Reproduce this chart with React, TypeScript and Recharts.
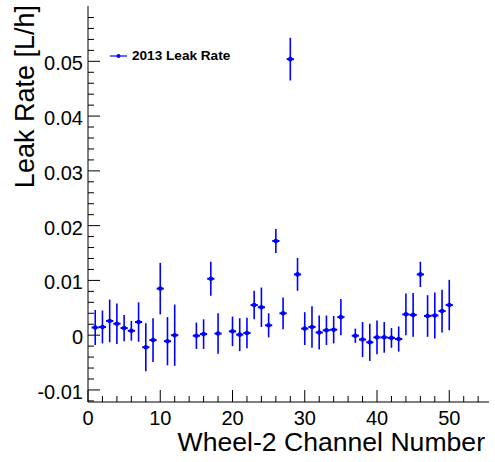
import React from 'react';
import {
  ScatterChart,
  Scatter,
  XAxis,
  YAxis,
  ErrorBar,
  Legend,
} from 'recharts';

// channel numbers that have a measurement
const channels = [
  1, 2, 3, 4, 5, 6, 7, 8, 9, 10, 11, 12, 15, 16, 17, 18, 20, 21, 22, 23, 24,
  25, 26, 27, 28, 29, 30, 31, 32, 33, 34, 35, 37, 38, 39, 40, 41, 42, 43, 44,
  45, 46, 47, 48, 49, 50,
];

// leak rate [L/h]
const leakRate = [
  0.0014, 0.0015, 0.0026, 0.0021, 0.0013, 0.0008, 0.0024, -0.0022, -0.0009,
  0.0085, -0.0011, 0.0, -0.0001, 0.0002, 0.0103, 0.0003, 0.0007, 0.0001,
  0.0004, 0.0055, 0.0051, 0.0018, 0.0172, 0.004, 0.0504, 0.0111, 0.0012,
  0.0015, 0.0005, 0.0009, 0.001, 0.0033, -0.0001, -0.0008, -0.0013, -0.0004,
  -0.0004, -0.0005, -0.0007, 0.0038, 0.0037, 0.0111, 0.0035, 0.0036, 0.0044,
  0.0055,
];

// error on the leak rate
const leakRateErr = [
  0.0032, 0.003, 0.0039, 0.0037, 0.0024, 0.0018, 0.0036, 0.0044, 0.004,
  0.0047, 0.0044, 0.0056, 0.0024, 0.0027, 0.0031, 0.0037, 0.0027, 0.003,
  0.0028, 0.0026, 0.0036, 0.0022, 0.0022, 0.0029, 0.0039, 0.003, 0.003,
  0.0038, 0.0031, 0.0027, 0.0025, 0.0033, 0.0013, 0.0032, 0.0034, 0.0031,
  0.0028, 0.0018, 0.0023, 0.0038, 0.004, 0.0023, 0.0038, 0.0042, 0.0039,
  0.0046,
];

const BIN_HALF_WIDTH = 0.5;

const data = channels.map((ch, i) => ({
  ch,
  rate: leakRate[i],
  err: leakRateErr[i],
  binErr: BIN_HALF_WIDTH,
}));

const X_DOMAIN: [number, number] = [0, 55.5];
const Y_DOMAIN: [number, number] = [-0.0122, 0.0601];

// ticks every 2 channels, every 0.002 L/h (labels only on the majors)
const xTicks: number[] = [];
for (let i = 0; i <= 27; i++) xTicks.push(i * 2);
const yTicks: number[] = [];
for (let i = -6; i <= 29; i++) yTicks.push(Math.round(i * 2) / 1000);

const BLUE = '#0000ff';
const FONT = '"Liberation Sans", Arial, Helvetica, sans-serif';
const MAJOR = 12;
const MINOR = 6;

const isMajorX = (v: number) => Math.abs(v / 10 - Math.round(v / 10)) < 1e-6;
const isMajorY = (v: number) =>
  Math.abs(v / 0.01 - Math.round(v / 0.01)) < 1e-6;

const fmtY = (v: number) => {
  const r = Math.round(v * 100) / 100;
  return r === 0 ? '0' : String(r);
};

type Side = 'bottom' | 'top' | 'left' | 'right';

const makeTick = (side: Side) => (props: any) => {
  const { x, y, payload } = props;
  const v = payload.value as number;
  const major = side === 'bottom' || side === 'top' ? isMajorX(v) : isMajorY(v);
  const len = major ? MAJOR : MINOR;
  let x2 = x;
  let y2 = y;
  if (side === 'bottom') y2 = y - len;
  if (side === 'top') y2 = y + len;
  if (side === 'left') x2 = x + len;
  if (side === 'right') x2 = x - len;
  return (
    <g>
      <line x1={x} y1={y} x2={x2} y2={y2} stroke="#000" strokeWidth={1} />
      {major && side === 'bottom' && (
        <text
          x={x}
          y={y + 23}
          textAnchor="middle"
          fontSize={20}
          fontFamily={FONT}
          fill="#000"
        >
          {v}
        </text>
      )}
      {major && side === 'left' && (
        <text
          x={x - 5}
          y={y + 9}
          textAnchor="end"
          fontSize={20}
          fontFamily={FONT}
          fill="#000"
        >
          {fmtY(v)}
        </text>
      )}
    </g>
  );
};

const XTitle = () => (
  <text
    x={485}
    y={451}
    textAnchor="end"
    fontSize={26.6}
    fontFamily={FONT}
    fill="#000"
  >
    Wheel-2 Channel Number
  </text>
);

const YTitle = () => (
  <text
    transform="rotate(-90)"
    x={-5}
    y={34}
    textAnchor="end"
    fontSize={27}
    fontFamily={FONT}
    fill="#000"
  >
    Leak Rate [L/h]
  </text>
);

const renderLegend = () => (
  <div style={{ display: 'flex', alignItems: 'center', fontFamily: FONT }}>
    <svg width={20} height={12} style={{ display: 'block' }}>
      <line x1={1} y1={6} x2={18} y2={6} stroke={BLUE} strokeWidth={1.2} />
      <circle cx={9.5} cy={6} r={2} fill={BLUE} />
    </svg>
    <span
      style={{
        marginLeft: 3,
        fontSize: 13.6,
        fontWeight: 'bold',
        color: '#000',
        whiteSpace: 'nowrap',
      }}
    >
      2013 Leak Rate
    </span>
  </div>
);

const Dot = (props: any) => (
  <circle cx={props.cx} cy={props.cy} r={2.3} fill={BLUE} />
);

export default function App() {
  return (
    <div style={{ position: 'absolute', left: 0, top: 0, background: '#fff' }}>
      <ScatterChart
        width={495}
        height={462}
        margin={{ top: 6, right: 6, bottom: 0, left: 0 }}
      >
        <XAxis
          xAxisId="b"
          type="number"
          dataKey="ch"
          domain={X_DOMAIN}
          ticks={xTicks}
          interval={0}
          allowDataOverflow
          tick={makeTick('bottom')}
          tickLine={false}
          tickSize={0}
          tickMargin={0}
          height={60}
          stroke="#000"
          label={<XTitle />}
        />
        <XAxis
          xAxisId="t"
          orientation="top"
          type="number"
          domain={X_DOMAIN}
          ticks={xTicks}
          interval={0}
          allowDataOverflow
          tick={makeTick('top')}
          tickLine={false}
          tickSize={0}
          tickMargin={0}
          height={0}
          stroke="#000"
        />
        <YAxis
          yAxisId="l"
          type="number"
          dataKey="rate"
          domain={Y_DOMAIN}
          ticks={yTicks}
          interval={0}
          allowDataOverflow
          tick={makeTick('left')}
          tickLine={false}
          tickSize={0}
          tickMargin={0}
          width={88}
          stroke="#000"
          label={<YTitle />}
        />
        <YAxis
          yAxisId="r"
          orientation="right"
          type="number"
          domain={Y_DOMAIN}
          ticks={yTicks}
          interval={0}
          allowDataOverflow
          tick={makeTick('right')}
          tickLine={false}
          tickSize={0}
          tickMargin={0}
          width={0}
          stroke="#000"
        />
        <Legend
          layout="vertical"
          align="center"
          verticalAlign="middle"
          content={renderLegend}
          wrapperStyle={{ left: 109, top: 48, width: 'auto' }}
        />
        <Scatter
          name="2013 Leak Rate"
          xAxisId="b"
          yAxisId="l"
          data={data}
          isAnimationActive={false}
          shape={Dot}
        >
          <ErrorBar
            dataKey="err"
            direction="y"
            width={0}
            stroke={BLUE}
            strokeWidth={1.6}
            isAnimationActive={false}
          />
          <ErrorBar
            dataKey="binErr"
            direction="x"
            width={0}
            stroke={BLUE}
            strokeWidth={2}
            isAnimationActive={false}
          />
        </Scatter>
      </ScatterChart>
    </div>
  );
}
